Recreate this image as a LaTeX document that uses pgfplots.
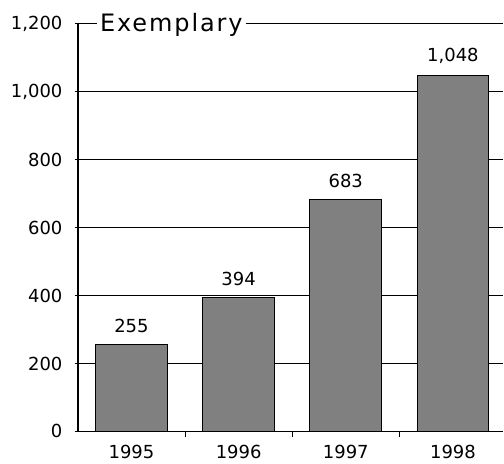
\documentclass[border=0pt]{standalone}
\usepackage{fontspec}
\setmainfont{DejaVu Sans}
\newfontfamily\titlefont[LetterSpace=8]{DejaVu Sans}
\usepackage{pgfplots}
\usepackage{pgfplotstable}
\pgfplotsset{compat=1.18}
\pgfplotstableread{
x y
0 255
1 394
2 683
3 1048
}\data
\begin{document}
\begin{tikzpicture}
\begin{axis}[
  at={(0,0)}, anchor=south west,
  scale only axis, width=426bp, height=408bp,
  xmin=-0.5, xmax=3.47, ymin=0, ymax=1200,
  axis lines=left, axis line style={line width=1.4bp, -},
  ytick={0,200,...,1200},
  ymajorgrids, grid style={line width=1bp, black},
  xtick={0.5,1.5,2.5}, xticklabels={},
  extra x ticks={0,1,2,3}, extra x tick labels={1995,1996,1997,1998},
  extra x tick style={major tick length=0pt, grid=none,
    tick label style={anchor=north, yshift=-10bp}},
  tick align=center, major tick length=6bp,
  tick style={line width=1bp, black},
  /pgf/number format/.cd, 1000 sep={,}, assume math mode=true, /pgfplots/.cd,
  tick label style={font=\fontsize{18bp}{21bp}\selectfont},
  yticklabel style={anchor=east, xshift=-9bp},
  ybar, bar width=0.67,
  nodes near coords,
  nodes near coords style={font=\fontsize{18bp}{21bp}\selectfont, anchor=south, yshift=8bp},
  clip=false,
]
\addplot[fill=gray, draw=black, line width=1bp] table[x=x, y=y] {\data};
\node[fill=white, anchor=base west, inner sep=3bp, font=\titlefont\fontsize{24bp}{24bp}\selectfont]
  at (rel axis cs:0,1) [xshift=19bp, yshift=-8bp] {Exemplary};
\end{axis}
\path[use as bounding box] (-78bp,-32bp) rectangle (426bp,432bp);
\end{tikzpicture}
\end{document}
